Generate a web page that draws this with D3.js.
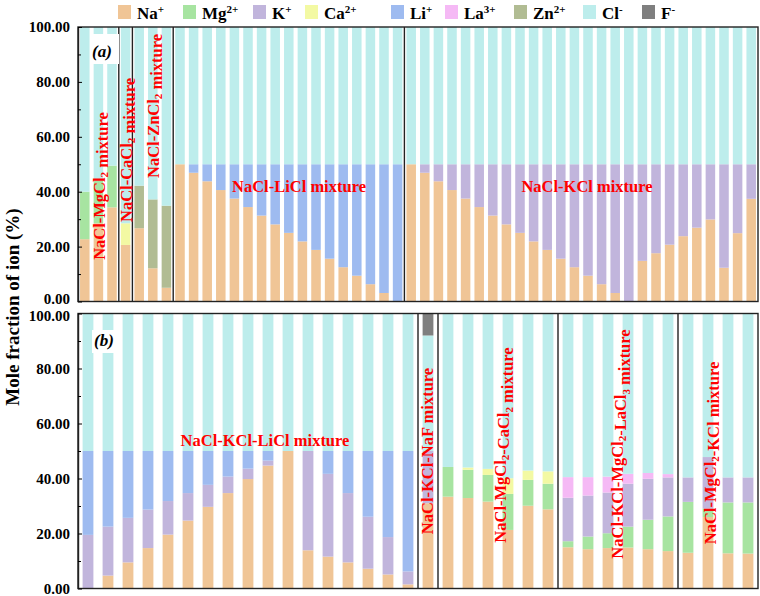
<!DOCTYPE html>
<html><head><meta charset="utf-8">
<script src="https://cdn.jsdelivr.net/npm/d3@7"></script>
<style>body{margin:0;background:#fff}svg{display:block}text{font-family:"Liberation Serif","Times New Roman",serif;font-weight:bold}</style>
</head><body><svg id="c" width="760" height="596"></svg>
<script>
const ions = ["Na","Mg","K","Ca","Li","La","Zn","Cl","F"];
const ionLabels = [["Na","+"],["Mg","2+"],["K","+"],["Ca","2+"],["Li","+"],["La","3+"],["Zn","2+"],["Cl","-"],["F","-"]];
const colors = ["#F0C596","#A7E4A1","#C1B5DC","#F3F9A3","#9EBBF0","#F5B9F5","#B1BC93","#BDEDEC","#7F7F7F"];
const yTicks = [0,20,40,60,80,100];

// Panel (a): 50 bars
const naA = [22.7,28.5,34.3,20.6,26.7,12.1,5.0, 50,46.9,43.8,40.6,37.5,34.4,31.3,28.1,25.0,21.9,18.8,15.6,12.5,9.4,6.3,3.1,0, 50,46.9,43.8,40.6,37.5,34.4,31.3,28.1,25.0,21.9,18.8,15.6,12.5,9.4,6.3,3.1,0,14.8,17.6,20.7,23.8,26.9,29.9,12.3,24.9,37.4];
const mgA = [17.3,15.5,15.2,0,0,0,0, 0,0,0,0,0,0,0,0,0,0,0,0,0,0,0,0,0, 0,0,0,0,0,0,0,0,0,0,0,0,0,0,0,0,0,0,0,0,0,0,0,0,0,0];
const kA  = [0,0,0,0,0,0,0, 0,0,0,0,0,0,0,0,0,0,0,0,0,0,0,0,0, 0,3.1,6.2,9.4,12.5,15.6,18.7,21.9,25.0,28.1,31.2,34.4,37.5,40.6,43.7,46.9,50,35.2,32.4,29.3,26.2,23.1,20.1,37.7,25.1,12.6];
const caA = [0,0,0,7.9,0,0,0, 0,0,0,0,0,0,0,0,0,0,0,0,0,0,0,0,0, 0,0,0,0,0,0,0,0,0,0,0,0,0,0,0,0,0,0,0,0,0,0,0,0,0,0];
const liA = [0,0,0,0,0,0,0, 0,3.1,6.2,9.4,12.5,15.6,18.7,21.9,25.0,28.1,31.2,34.4,37.5,40.6,43.7,46.9,50, 0,0,0,0,0,0,0,0,0,0,0,0,0,0,0,0,0,0,0,0,0,0,0,0,0,0];
const laA = [0,0,0,0,0,0,0, 0,0,0,0,0,0,0,0,0,0,0,0,0,0,0,0,0, 0,0,0,0,0,0,0,0,0,0,0,0,0,0,0,0,0,0,0,0,0,0,0,0,0,0];
const znA = [0,0,0,0,15.5,25.1,29.9, 0,0,0,0,0,0,0,0,0,0,0,0,0,0,0,0,0, 0,0,0,0,0,0,0,0,0,0,0,0,0,0,0,0,0,0,0,0,0,0,0,0,0,0];
const clA = [60.0,56.0,50.5,71.5,57.8,62.8,65.1, 50,50,50,50,50,50,50,50,50,50,50,50,50,50,50,50,50, 50,50,50,50,50,50,50,50,50,50,50,50,50,50,50,50,50,50,50,50,50,50,50,50,50,50];
const fA  = [0,0,0,0,0,0,0, 0,0,0,0,0,0,0,0,0,0,0,0,0,0,0,0,0, 0,0,0,0,0,0,0,0,0,0,0,0,0,0,0,0,0,0,0,0,0,0,0,0,0,0];

// Panel (b): 34 bars
const naB = [0,4.7,9.5,14.7,19.6,24.7,29.7,34.7,39.8,44.7,50,13.9,11.6,9.5,7.2,5.1,1.5, 31.0, 33.4,32.9,31.6,21.3,30.1,28.8, 15.0,14.3,14.7,14.9,14.3,13.6, 13.0,26.0,12.8,12.7];
const mgB = [0,0,0,0,0,0,0,0,0,0,0,0,0,0,0,0,0, 0, 10.8,10.3,9.7,13.1,9.4,9.3, 2.2,4.6,5.4,7.6,10.7,12.6, 18.5,3.0,18.5,18.6];
const kB  = [19.5,17.8,16.2,14.0,12.2,10.0,8.0,6.0,3.8,1.8,0,36.1,30.1,25.2,18.9,13.6,4.7, 19.0, 0,0,0,0,0,0, 15.8,14.9,14.8,15.6,14.9,14.2, 8.9,18.8,9.1,9.1];
const caB = [0,0,0,0,0,0,0,0,0,0,0,0,0,0,0,0,0, 0, 0,0.8,2.2,5.7,3.4,4.5, 0,0,0,0,0,0, 0,0,0,0];
const liB = [30.5,27.5,24.3,21.3,18.2,15.3,12.3,9.3,6.4,3.5,0,0,8.3,15.3,23.9,31.3,43.8, 0, 0,0,0,0,0,0, 0,0,0,0,0,0, 0,0,0,0];
const laB = [0,0,0,0,0,0,0,0,0,0,0,0,0,0,0,0,0, 0, 0,0,0,0,0,0, 7.5,6.7,5.8,3.6,2.1,1.2, 0,0,0,0];
const znB = [0,0,0,0,0,0,0,0,0,0,0,0,0,0,0,0,0, 0, 0,0,0,0,0,0, 0,0,0,0,0,0, 0,0,0,0];
const clB = [50,50,50,50,50,50,50,50,50,50,50,50,50,50,50,50,50, 42.0, 55.8,56.0,56.5,59.9,57.1,57.4, 59.5,59.5,59.3,58.3,58.0,58.4, 59.6,52.2,59.6,59.6];
const fB  = [0,0,0,0,0,0,0,0,0,0,0,0,0,0,0,0,0, 8.0, 0,0,0,0,0,0, 0,0,0,0,0,0, 0,0,0,0];

const dividersA = [3,4,7,24];
const dividersB = [17,18,24,30];

const svg = d3.select("#c");
const color = d3.scaleOrdinal().domain(ions).range(colors);

function rows(arrs){
  return arrs[0].map((_,i)=>{const r={idx:i}; ions.forEach((k,j)=>r[k]=arrs[j][i]); return r;});
}
const dataA = rows([naA,mgA,kA,caA,liA,laA,znA,clA,fA]);
const dataB = rows([naB,mgB,kB,caB,liB,laB,znB,clB,fB]);
const stack = d3.stack().keys(ions);

const L=78, R=758;
function panel(data, top, bottom, pad, dividers, nudge){
  const x = d3.scaleBand().domain(data.map(d=>d.idx)).range([L,R]).paddingInner(pad).paddingOuter(pad/2);
  const y = d3.scaleLinear().domain([0,100]).range([bottom, top]);
  const g = svg.append("g");
  g.selectAll("g.s").data(stack(data)).join("g").attr("fill",d=>color(d.key))
    .selectAll("rect").data(d=>d).join("rect")
    .attr("x",d=>x(d.data.idx)).attr("width",x.bandwidth())
    .attr("y",d=>y(d[1])).attr("height",d=>Math.max(0,y(d[0])-y(d[1])));
  const step = x.step();
  dividers.forEach(i=>{
    const xx = x(i) - step*pad/2;
    g.append("line").attr("x1",xx).attr("x2",xx).attr("y1",top).attr("y2",bottom).attr("stroke","#222").attr("stroke-width",1.4);
  });
  g.append("rect").attr("x",L).attr("y",top).attr("width",R-L).attr("height",bottom-top).attr("fill","none").attr("stroke","#222").attr("stroke-width",1.4);
  const ax = g.append("g").attr("transform",`translate(${L},0)`)
    .call(d3.axisLeft(y).tickValues(yTicks).tickFormat(d3.format(".2f")).tickSizeInner(-4).tickSizeOuter(0).tickPadding(8));
  ax.select(".domain").attr("stroke","#222").attr("stroke-width",1.4);
  ax.selectAll("text").attr("font-size",15).attr("fill","#000").style("font-family","'Liberation Serif',serif").style("font-weight","bold")
    .attr("transform",d=>nudge[d]?`translate(0,${nudge[d]})`:null);
  const axm = g.append("g").attr("transform",`translate(${L},0)`)
    .call(d3.axisLeft(y).tickValues([10,30,50,70,90]).tickFormat("").tickSizeInner(-3).tickSizeOuter(0));
  axm.select(".domain").remove();
  return {x,y,g};
}
const pA = panel(dataA, 27, 301.5, 0.3, dividersA, {0:-2.5});
const pB = panel(dataB, 313.5, 588.5, 0.46, dividersB, {100:2.5});

// panel tags
function tag(t, cx, by, bx0, by0, bw, bh){
  svg.append("rect").attr("x",bx0).attr("y",by0).attr("width",bw).attr("height",bh).attr("fill","#fff");
  svg.append("text").attr("x",cx).attr("y",by).attr("text-anchor","middle").attr("font-size",17).style("font-style","italic").text(t);
}
tag("(a)", 102, 57, 91, 34, 28, 30);
tag("(b)", 104, 346, 92, 330, 26, 23);

// mixture labels
const red = "#FF0000";
function hlabel(t, cx, by){
  svg.append("text").attr("x",cx).attr("y",by).attr("text-anchor","middle").attr("font-size",16.5).attr("fill",red).text(t);
}
hlabel("NaCl-LiCl mixture", 299, 192);
hlabel("NaCl-KCl mixture", 587, 192);
hlabel("NaCl-KCl-LiCl mixture", 265, 445.5);
function vlabel(parts, cx, cy){
  const t = svg.append("text").attr("transform",`translate(${cx},${cy}) rotate(-90)`).attr("text-anchor","middle")
    .attr("dy","0.36em").attr("font-size",16.5).attr("fill",red);
  parts.forEach(p=>{
    if(typeof p === "string") t.append("tspan").text(p);
    else { t.append("tspan").attr("font-size",11).attr("dy","0.3em").text(p[0]); t.append("tspan").attr("dy","-0.3em").text(""); }
  });
}
vlabel(["NaCl-MgCl",["2"]," mixture"], 99, 186);
vlabel(["NaCl-CaCl",["2"]," mixture"], 126, 150);
vlabel(["NaCl-ZnCl",["2"]," mixture"], 153, 106);
vlabel(["NaCl-KCl-NaF mixture"], 427, 451);
vlabel(["NaCl-MgCl",["2"],"-CaCl",["2"]," mixture"], 500, 445);
vlabel(["NaCl-KCl-MgCl",["2"],"-LaCl",["3"]," mixture"], 617, 444);
vlabel(["NaCl-MgCl",["2"],"-KCl mixture"], 710, 453);

// legend
const legX = [118,183,253,305,391,445,514,583,642];
const leg = svg.append("g");
ionLabels.forEach((lab,i)=>{
  leg.append("rect").attr("x",legX[i]).attr("y",5).attr("width",13).attr("height",14).attr("fill",colors[i]);
  const t = leg.append("text").attr("x",legX[i]+19).attr("y",18.5).attr("font-size",17);
  t.append("tspan").text(lab[0]);
  t.append("tspan").attr("font-size",11).attr("dy",-6).text(lab[1]);
});

// y title
svg.append("text").attr("transform","translate(19,307) rotate(-90)").attr("text-anchor","middle").attr("font-size",19).text("Mole fraction of ion (%)");
</script></body></html>
